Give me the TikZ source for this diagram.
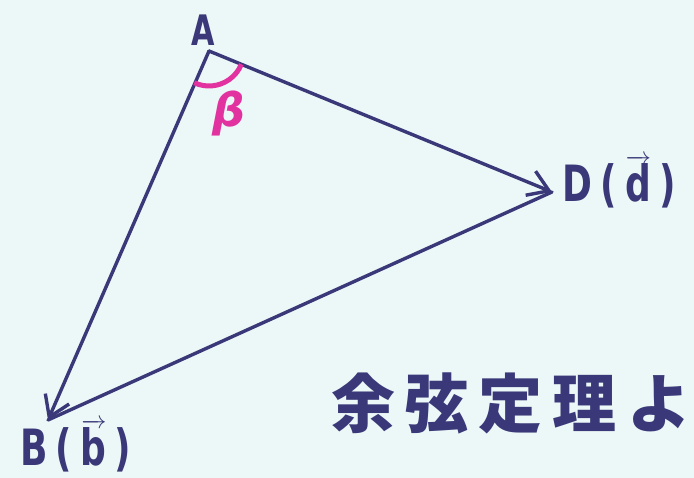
\documentclass[tikz,border=0pt]{standalone}
\usepackage{fontspec}
\setmainfont{DejaVu Sans}
\newfontfamily\labfont[FakeStretch=0.72]{DejaVu Sans}
\newfontfamily\cjkfont{Noto Sans CJK JP}
\usetikzlibrary{arrows.meta}
\definecolor{bgc}{RGB}{235,248,247}
\definecolor{ink}{RGB}{58,56,120}
\definecolor{pinkink}{RGB}{225,50,160}
\begin{document}
\begin{tikzpicture}[x=1pt,y=1pt,
  edge/.style={draw=ink,line width=3.4pt,line cap=round,line join=round},
  arr/.style={edge,-{Straight Barb[length=20pt,width=26pt,line width=3.4pt]}},
  lab/.style={text=ink,font=\labfont\bfseries\fontsize{50}{50}\selectfont,inner sep=0pt}]
\fill[bgc] (0,0) rectangle (694,478);
\useasboundingbox (0,0) rectangle (694,478);
\coordinate (A) at (209,427);
\coordinate (D) at (552,286);
\coordinate (B) at (48,58);
\draw[edge] (B) -- (D);
\draw[arr] (A) -- (D);
\draw[arr] (A) -- (B);
\draw[draw=pinkink,line width=5pt] ([shift={(-115:35pt)}]A) arc[start angle=-115,end angle=-22.3,radius=35pt];
\node[text=pinkink,font=\bfseries\itshape\fontsize{46}{46}\selectfont,inner sep=0pt] (beta) at (229,364) {β};
\node[lab,font=\labfont\bfseries\fontsize{42}{42}\selectfont] (la) at (203,448) {A};
\node[lab,anchor=west] (ld) at (562,296) {D\,(\,$\overrightarrow{\hbox{d}}$\,)};
\node[lab,anchor=west] (lb) at (20,32) {B\,(\,$\overrightarrow{\hbox{b}}$\,)};
\node[text=ink,font=\cjkfont\bfseries\fontsize{64}{64}\selectfont,inner sep=0pt] (txt) at (511,75) {余\hspace{10pt}弦\hspace{10pt}定\hspace{10pt}理\hspace{10pt}よ};
\end{tikzpicture}
\end{document}
